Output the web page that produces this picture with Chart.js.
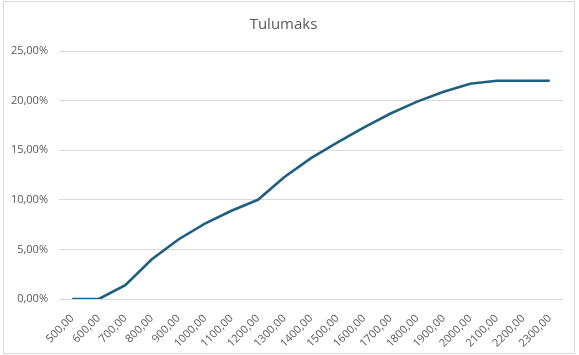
<!DOCTYPE html>
<html>
<head>
<meta charset="utf-8">
<script src="https://cdn.jsdelivr.net/npm/chart.js@4"></script>
<style>
  html, body { margin: 0; padding: 0; background: #ffffff; }
  #frame { position: absolute; left: 3px; top: 1px; width: 570px; height: 351px; border: 1px solid #d9d9d9; background: #fff; }
  canvas { display: block; }
</style>
</head>
<body>
<div id="frame"><canvas id="c" width="570" height="351"></canvas></div>
<script>
const categories = ['500,00','600,00','700,00','800,00','900,00','1000,00','1100,00','1200,00','1300,00','1400,00','1500,00','1600,00','1700,00','1800,00','1900,00','2000,00','2100,00','2200,00','2300,00'];
const tulumaks = [0, 0, 1.4, 4.0, 6.0, 7.6, 8.9, 10.0, 12.3, 14.2, 15.8, 17.3, 18.7, 19.9, 20.9, 21.7, 22.0, 22.0, 22.0];
const yTicks = [0, 5, 10, 15, 20, 25];
const chartTitle = 'Tulumaks';

const FONT = "'Open Sans', 'Noto Sans', sans-serif";
new Chart(document.getElementById('c'), {
  type: 'line',
  data: {
    labels: categories,
    datasets: [{
      label: chartTitle,
      data: tulumaks,
      borderColor: '#1f5f80',
      borderWidth: 2.6,
      pointRadius: 0,
      tension: 0,
      fill: false
    }]
  },
  options: {
    responsive: false,
    animation: false,
    layout: { padding: { left: 0, right: 11, top: 0, bottom: 0 } },
    plugins: {
      legend: { display: false },
      tooltip: { enabled: false },
      title: {
        display: true,
        text: chartTitle,
        color: '#595959',
        font: { family: FONT, size: 15, weight: 'normal', lineHeight: 1.2 },
        padding: { top: 14, bottom: 17 }
      }
    },
    scales: {
      x: {
        offset: true,
        grid: { display: false },
        border: { display: false },
        afterFit: (axis) => { axis.height = 54; },
        ticks: {
          color: '#595959',
          font: { family: FONT, size: 11 },
          maxRotation: 45,
          minRotation: 45,
          autoSkip: false,
          padding: 5
        }
      },
      y: {
        min: 0,
        max: 25,
        afterBuildTicks: (axis) => { axis.ticks = yTicks.map(v => ({ value: v })); },
        afterFit: (axis) => { axis.width = 55; },
        grid: { color: '#d9d9d9', lineWidth: 1, drawTicks: false },
        border: { display: false },
        ticks: {
          color: '#595959',
          font: { family: FONT, size: 11 },
          padding: 11,
          callback: (v) => v.toFixed(2).replace('.', ',') + '%'
        }
      }
    }
  }
});
</script>
</body>
</html>
